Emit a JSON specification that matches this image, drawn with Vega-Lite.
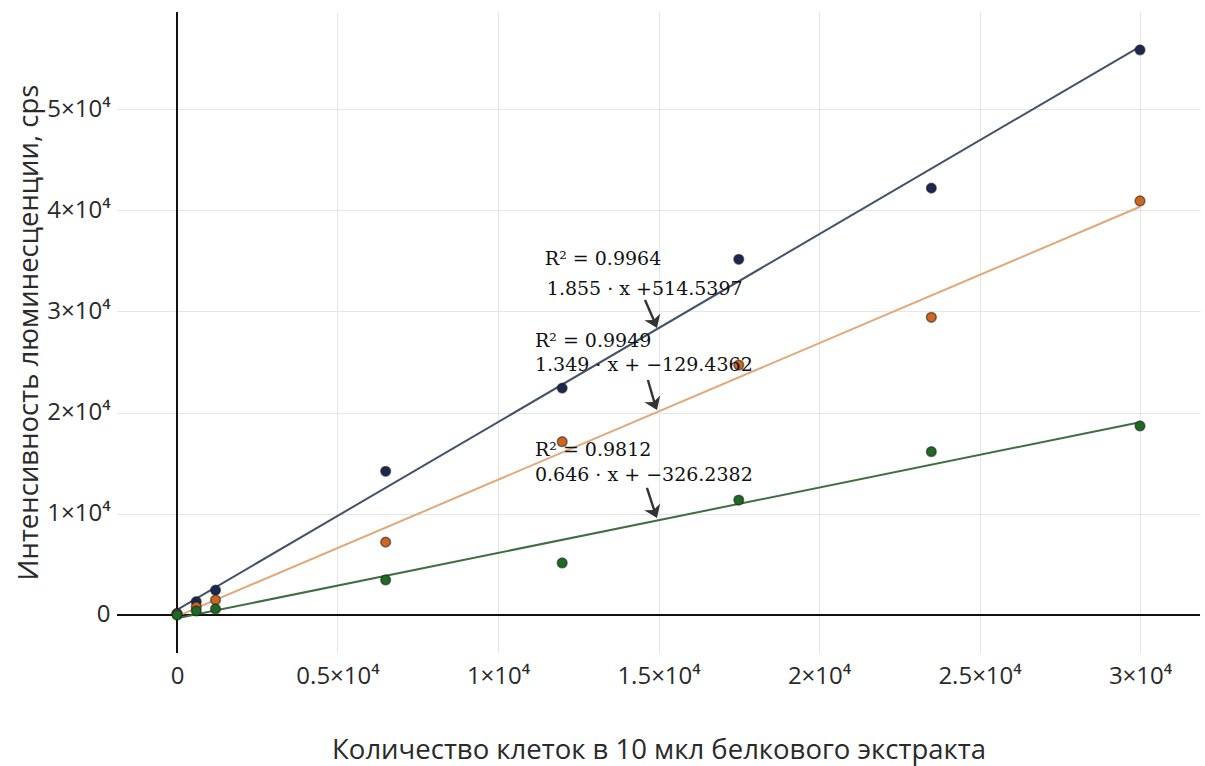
{
  "$schema": "https://vega.github.io/schema/vega-lite/v6.json",
  "autosize": {"type": "none"},
  "padding": {"left": 117, "top": 12, "right": 5, "bottom": 113},
  "width": 1083,
  "height": 641,
  "background": "white",
  "config": {
    "view": {"stroke": null},
    "axis": {
      "domain": false,
      "ticks": false,
      "grid": true,
      "gridColor": "#e6e6e6",
      "gridWidth": 1,
      "labelFont": "Open Sans",
      "labelFontSize": 24,
      "labelColor": "#2a2a2a",
      "titleFont": "Open Sans",
      "titleFontSize": 27.5,
      "titleFontWeight": "normal",
      "titleColor": "#2a2a2a"
    }
  },
  "datasets": {
    "points": [
      {"series": "s1", "x": 0, "y": 150},
      {"series": "s1", "x": 600, "y": 1310},
      {"series": "s1", "x": 1200, "y": 2450},
      {"series": "s1", "x": 6500, "y": 14200},
      {"series": "s1", "x": 12000, "y": 22420},
      {"series": "s1", "x": 17500, "y": 35150},
      {"series": "s1", "x": 23500, "y": 42180},
      {"series": "s1", "x": 30000, "y": 55840},
      {"series": "s2", "x": 0, "y": 80},
      {"series": "s2", "x": 600, "y": 800},
      {"series": "s2", "x": 1200, "y": 1480},
      {"series": "s2", "x": 6500, "y": 7200},
      {"series": "s2", "x": 12000, "y": 17120},
      {"series": "s2", "x": 17500, "y": 24700},
      {"series": "s2", "x": 23500, "y": 29420},
      {"series": "s2", "x": 30000, "y": 40910},
      {"series": "s3", "x": 0, "y": 0},
      {"series": "s3", "x": 600, "y": 400},
      {"series": "s3", "x": 1200, "y": 600},
      {"series": "s3", "x": 6500, "y": 3460},
      {"series": "s3", "x": 12000, "y": 5140},
      {"series": "s3", "x": 17500, "y": 11360},
      {"series": "s3", "x": 23500, "y": 16140},
      {"series": "s3", "x": 30000, "y": 18680}
    ],
    "fits": [
      {"series": "s1", "x": 0, "y": 514.54},
      {"series": "s1", "x": 30000, "y": 56164.54},
      {"series": "s2", "x": 0, "y": -129.44},
      {"series": "s2", "x": 30000, "y": 40340.56},
      {"series": "s3", "x": 0, "y": -326.24},
      {"series": "s3", "x": 30000, "y": 19053.76}
    ],
    "labels": [
      {"x": 11460, "y": 35150, "text": "R² = 0.9964"},
      {"x": 11520, "y": 32180, "text": "1.855 · x +514.5397"},
      {"x": 11150, "y": 27030, "text": "R² = 0.9949"},
      {"x": 11150, "y": 24750, "text": "1.349 · x + −129.4362"},
      {"x": 11150, "y": 16340, "text": "R² = 0.9812"},
      {"x": 11150, "y": 13860, "text": "0.646 · x + −326.2382"}
    ],
    "arrows": [
      {"x": 14580, "y": 31130, "x2": 14900, "y2": 28800},
      {"x": 14670, "y": 23220, "x2": 14900, "y2": 20700},
      {"x": 14640, "y": 12550, "x2": 14900, "y2": 10030}
    ],
    "tips": [
      {"x": 14953, "y": 28360},
      {"x": 14953, "y": 20260},
      {"x": 14953, "y": 9590}
    ],
    "zero": [{"v": 0}]
  },
  "layer": [
    {
      "data": {"name": "points"},
      "mark": {"type": "point", "opacity": 0},
      "encoding": {
        "x": {
          "field": "x", "type": "quantitative",
          "scale": {"domain": [-1869, 31869], "zero": false, "nice": false},
          "axis": {
            "title": "Количество клеток в 10 мкл белкового экстракта",
            "values": [0, 5000, 10000, 15000, 20000, 25000, 30000],
            "labelExpr": "datum.value == 0 ? '0' : (datum.value / 10000) + '×10⁴'",
            "labelPadding": 11,
            "titleBaseline": "alphabetic",
            "titleY": 105
          }
        },
        "y": {
          "field": "y", "type": "quantitative",
          "scale": {"domain": [-3755, 59585], "zero": false, "nice": false},
          "axis": {
            "title": "Интенсивность люминесценции, cps",
            "values": [0, 10000, 20000, 30000, 40000, 50000],
            "labelExpr": "datum.value == 0 ? '0' : (datum.value / 10000) + '×10⁴'",
            "labelPadding": 7,
            "titleBaseline": "alphabetic",
            "titleX": -80,
            "titleY": 320,
            "titleAlign": "center"
          }
        }
      }
    },
    {
      "data": {"name": "zero"},
      "mark": {"type": "rule", "color": "#111111", "strokeWidth": 2},
      "encoding": {"y": {"datum": 0, "type": "quantitative"}}
    },
    {
      "data": {"name": "zero"},
      "mark": {"type": "rule", "color": "#111111", "strokeWidth": 2},
      "encoding": {"x": {"datum": 0, "type": "quantitative"}}
    },
    {
      "data": {"name": "fits"},
      "mark": {"type": "line", "strokeWidth": 2},
      "encoding": {
        "x": {"field": "x", "type": "quantitative"},
        "y": {"field": "y", "type": "quantitative"},
        "detail": {"field": "series"},
        "stroke": {
          "field": "series", "type": "nominal",
          "scale": {"domain": ["s1", "s2", "s3"], "range": ["#425268", "#e2a878", "#3f6e42"]},
          "legend": null
        }
      }
    },
    {
      "data": {"name": "points"},
      "mark": {"type": "point", "filled": true, "size": 95, "strokeWidth": 1.5, "stroke": "#1a1a1a", "strokeOpacity": 0.55, "opacity": 1},
      "encoding": {
        "x": {"field": "x", "type": "quantitative"},
        "y": {"field": "y", "type": "quantitative"},
        "fill": {
          "field": "series", "type": "nominal",
          "scale": {"domain": ["s1", "s2", "s3"], "range": ["#1b2850", "#cf661f", "#1f6a22"]},
          "legend": null
        }
      }
    },
    {
      "data": {"name": "labels"},
      "mark": {"type": "text", "font": "DejaVu Serif", "fontSize": 19, "fontWeight": "normal", "align": "left", "baseline": "middle", "color": "#111111"},
      "encoding": {
        "x": {"field": "x", "type": "quantitative"},
        "y": {"field": "y", "type": "quantitative"},
        "text": {"field": "text"}
      }
    },
    {
      "data": {"name": "arrows"},
      "mark": {"type": "rule", "color": "#333333", "strokeWidth": 2.4},
      "encoding": {
        "x": {"field": "x", "type": "quantitative"},
        "y": {"field": "y", "type": "quantitative"},
        "x2": {"field": "x2"},
        "y2": {"field": "y2"}
      }
    },
    {
      "data": {"name": "tips"},
      "mark": {"type": "point", "shape": "M0,0L-1,-1.4L0,-1L1,-1.4Z", "filled": true, "color": "#333333", "size": 300, "angle": 337, "opacity": 1},
      "encoding": {
        "x": {"field": "x", "type": "quantitative"},
        "y": {"field": "y", "type": "quantitative"}
      }
    }
  ]
}
